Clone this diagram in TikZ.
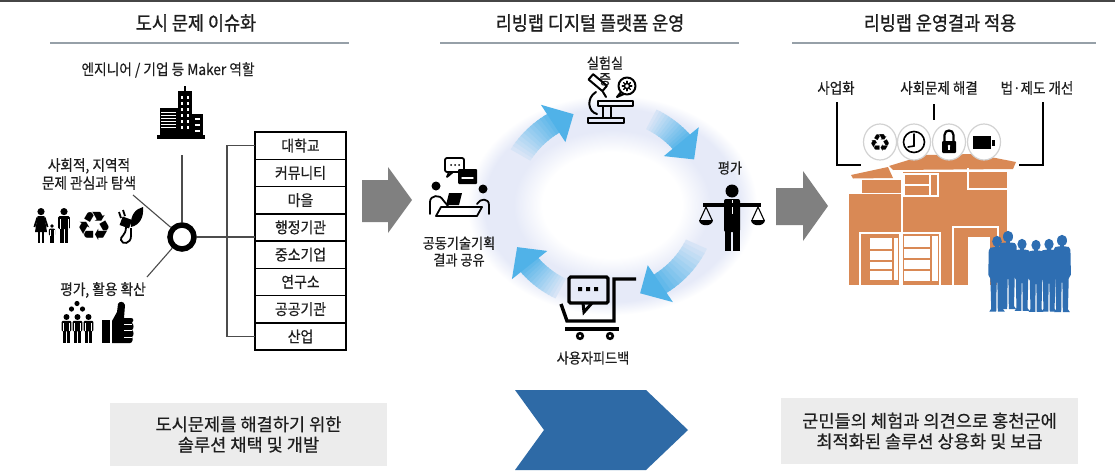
\documentclass[tikz,border=0pt]{standalone}
\usepackage{fontspec}
\newfontfamily\kr[FakeStretch=0.9, FakeBold=0.4]{Noto Sans CJK KR}
\newfontfamily\krt[FakeStretch=0.9, FakeBold=1.0]{Noto Sans CJK KR}
\newfontfamily\krw[FakeStretch=1.0, FakeBold=0.4]{Noto Sans CJK KR}
\newfontfamily\symfont{DejaVu Sans}
\usetikzlibrary{calc}

\definecolor{ink}{RGB}{30,30,30}
\definecolor{rulegray}{RGB}{150,160,168}
\definecolor{topgray}{RGB}{70,70,70}
\definecolor{arrowgray}{RGB}{128,128,128}
\definecolor{ringcol}{RGB}{230,234,248}
\definecolor{skyblue}{RGB}{80,178,232}
\definecolor{houseor}{RGB}{217,137,85}
\definecolor{crowdblue}{RGB}{46,110,178}
\definecolor{chevblue}{RGB}{46,106,166}
\definecolor{boxgray}{RGB}{236,236,236}

% soft elliptical band behind the cycle
\pgfdeclareradialshading{ringshade}{\pgfpoint{0bp}{0bp}}{color(0bp)=(white); color(12bp)=(white); color(17bp)=(ringcol); color(22bp)=(ringcol); color(25bp)=(white); color(50bp)=(white)}

% curved cycle arrow: #1 tail angle, #2 tip angle (fades towards the tail)
\newcommand\cyclearrow[2]{%
  \pgfmathsetmacro\headbase{#2-13}%
  \foreach \k in {0,...,11}{%
    \pgfmathsetmacro\angA{#1+(\headbase-#1)*\k/12}%
    \pgfmathsetmacro\angB{#1+(\headbase-#1)*(\k+1)/12+0.8}%
    \pgfmathtruncatemacro\mixP{10+\k*7}%
    \fill[skyblue!\mixP!ringcol] plot[domain=\angA:\angB, samples=5] (\x:106) -- plot[domain=\angB:\angA, samples=5] (\x:84) -- cycle;
  }%
  \fill[skyblue] (\headbase:117) -- (#2:95) -- (\headbase:73) -- cycle;
}

\tikzset{
  man/.pic={
    \fill (0,3.6) circle (3.6);
    \fill[rounded corners=1.2] (-5.8,8.2) rectangle (5.8,21);
    \fill (-4.2,20) rectangle (-0.5,35);
    \fill (0.5,20) rectangle (4.2,35);
    \draw[white, line width=0.6] (-3.9,11) -- (-3.9,21) (3.9,11) -- (3.9,21);
  },
  woman/.pic={
    \fill (0,3.6) circle (3.6);
    \fill (-3.4,8) -- (3.4,8) -- (6,24) -- (-6,24) -- cycle;
    \fill (-3,23) rectangle (-0.7,35);
    \fill (0.7,23) rectangle (3,35);
    \draw[line width=1.8] (-3.6,9.5) -- (-6.6,19) (3.6,9.5) -- (6.6,19);
  },
  member/.pic={
    \fill (0,5.6) ellipse [x radius=5, y radius=5.8];
    \fill (-2,10) rectangle (2,13);
    \fill (-8.5,15) .. controls (-8.5,12) and (-6,11.5) .. (-3,11.5) -- (3,11.5)
       .. controls (6,11.5) and (8.5,12) .. (8.5,15) -- (9,40) -- (6.8,44)
       -- (6,75) -- (8,78) -- (0.8,78) -- (0.4,48) -- (-0.4,48) -- (-0.8,78)
       -- (-8,78) -- (-6,75) -- (-6.8,44) -- (-9,40) -- cycle;
  },
}

\begin{document}
\begin{tikzpicture}[x=1pt,y=-1pt,
  title/.style={font=\krt\fontsize{19.4}{22}\selectfont, text=ink, inner sep=0},
  lbl/.style={font=\kr\fontsize{15.2}{18}\selectfont, text=ink, align=center, inner sep=0},
  mlbl/.style={font=\kr\fontsize{14.6}{16.8}\selectfont, text=ink, align=center, inner sep=0},
  rlbl/.style={font=\kr\fontsize{15}{17}\selectfont, text=ink, inner sep=0},
  row/.style={draw=black, line width=1.5, minimum width=91, minimum height=27.25, inner sep=0, outer sep=0, font=\kr\fontsize{15.4}{17}\selectfont, text=ink},
  conn/.style={draw=black!70, line width=1.1},
  brk/.style={draw=black, line width=2.8},
  rulec/.style={draw=rulegray, line width=1.4},
  sol/.style={fill=boxgray, inner sep=0, align=center, font=\krw\fontsize{17.6}{20.5}\selectfont, text=ink},
]
\useasboundingbox (0,0) rectangle (1115,471);
\fill[white] (0,0) rectangle (1115,471);

% ---------- header ----------
\draw[topgray, line width=2.2] (0,1.2) -- (1115,1.2);
\node[title] (t1) at (196,23) {도시 문제 이슈화};
\node[title] (t2) at (590,23) {리빙랩 디지털 플랫폼 운영};
\node[title] (t3) at (940,23) {리빙랩 운영결과 적용};
\draw[rulec] (50,43) -- (349,43);
\draw[rulec] (440,43) -- (739,43);
\draw[rulec] (792,43) -- (1096,43);

% ---------- left: urban issues ----------
\node[lbl] (maker) at (168,70) {엔지니어 / 기업 등 Maker 역할};

% office towers
\fill (178,91) rectangle (192,138);
\fill (184,86) rectangle (186,91);
\fill (160,108) rectangle (178,138);
\fill (192,114) rectangle (203,138);
\fill (157,135) rectangle (205,139);
\foreach \yy in {112,115,...,127} \draw[white, line width=0.8] (161,\yy) -- (176,\yy);
\foreach \yy in {96,102,...,126} {\fill[white] (181,\yy) rectangle (183,\yy+3); \fill[white] (187,\yy) rectangle (189,\yy+3);}
\foreach \yy in {118,124,130} \fill[white] (195,\yy) rectangle (200,\yy+2);

\node[lbl] (explore) at (89,174) {사회적, 지역적\\문제 관심과 탐색};
\node[lbl] (spread) at (103,290) {평가, 활용 확산};

% family, recycling, green plug
\pic at (41,208) {woman};
\pic[scale=0.55] at (52,224) {man};
\pic at (64,208) {man};
\node[font=\symfont\fontsize{40}{40}\selectfont, inner sep=0] (recyL) at (94,226) {♻};
\fill (131,227) .. controls (130,214) and (136,209) .. (143,207) .. controls (144,217) and (140,225) .. (131,227) -- cycle;
\fill[rotate around={-20:(126,222)}] (121,218) rectangle (131,227);
\draw[line width=1.8] (121,218) -- (119,212) (125,216) -- (123,210);
\draw[line width=1.8] (126,227) .. controls (126,236) and (120,236) .. (121,240) .. controls (122,245) and (131,244) .. (131,236) -- (131,228);

% crowd and thumbs-up
\fill (77,303.5) circle (2.6);
\fill (71.5,309) circle (2.6);
\fill (82.5,309) circle (2.6);
\pic[scale=0.83] at (66.5,314) {man};
\pic[scale=0.83] at (77.5,314) {man};
\pic[scale=0.83] at (88.5,314) {man};
\fill (102,320) rectangle (110,343);
\fill (112,343) -- (112,321) -- (117,312) -- (118,304) .. controls (119,301) and (124,301) .. (125,305) -- (124,318) -- (131,318) .. controls (134,318) and (134,322) .. (132,323) .. controls (134,324) and (134,329) .. (132,330) .. controls (134,331) and (134,336) .. (132,337) .. controls (133,338) and (133,343) .. (130,343) -- cycle;
\draw[white, line width=0.8] (124,324) -- (132,324) (124,330.5) -- (132,330.5) (124,337) -- (132,337);

% hub ring and its links
\node[circle, draw=black, line width=5.5, minimum size=24, inner sep=0] (hub) at (182,237) {};
\coordinate (bldfoot) at (182,155);
\coordinate (exploreEnd) at (133,195);
\coordinate (spreadEnd) at (147,277);
\draw[conn] (bldfoot) -- (hub);
\draw[conn] (exploreEnd) -- (hub);
\draw[conn] (spreadEnd) -- (hub);

% stakeholder list
\foreach \t [count=\i] in {대학교,커뮤니티,마을,행정기관,중소기업,연구소,공공기관,산업}
  \node[row] (r\i) at (300.5,{132+27.25*(\i-0.5)}) {\t};
\draw[line width=2.8] (r1.north west) rectangle (r8.south east);
\draw[conn] (hub) -- (hub -| r1.west);
\draw[conn] (r1.west) -- ++(-28,0) |- (r8.west);

% ---------- transition arrows ----------
\fill[arrowgray] (362,180) -- (388,180) -- (388,167) -- (412,200) -- (388,233) -- (388,222) -- (362,222) -- cycle;
\fill[arrowgray] (776,188) -- (803,188) -- (803,171) -- (828,206) -- (803,241) -- (803,225) -- (776,225) -- cycle;

% ---------- middle: living-lab cycle ----------
\shade[shading=ringshade] (612,205) ellipse [x radius=145, y radius=110];
\begin{scope}[shift={(606,204)}, xscale=1.05]
  \cyclearrow{211}{251}
  \cyclearrow{297}{332}
  \cyclearrow{25}{70}
  \cyclearrow{117}{153}
\end{scope}

\node[mlbl, font=\kr\fontsize{14.6}{16}\selectfont] (lab) at (605,71) {실험실\\증};
\node[mlbl] (evalL) at (730,168) {평가};
\node[mlbl] (share) at (459,251.5) {공동기술기획\\결과 공유};
\node[mlbl] (fb) at (593,358) {사용자피드백};

% microscope with gear bubble
\begin{scope}[line width=2, line cap=round, line join=round]
  \draw[rotate around={-40:(597,82)}] (589,78.5) rectangle (607,85.5);
  \draw (603,92) -- (606,97);
  \draw (596,92) .. controls (586,98) and (588,112) .. (597,114);
  \draw (598,101) rectangle (633,106);
  \draw (603,106) -- (603,118) (611,106) -- (611,118);
  \draw (588,118) rectangle (624,123);
  \draw (627,86) circle (8.5);
  \draw (621,92) -- (617,97) -- (624,94);
  \draw[line width=1.4] (627,86) circle (2.6);
  \begin{scope}[shift={(627,86)}]
    \foreach \a in {0,45,...,315} \draw[line width=1.4] (\a:2.6) -- (\a:4.8);
  \end{scope}
\end{scope}

% joint planning meeting
\begin{scope}[line width=1.8, line cap=round, line join=round]
  \draw[rounded corners=2] (445,158) rectangle (464,172);
  \draw (449,172) -- (447,177) -- (453,172);
  \fill (451,165) circle (1) (455,165) circle (1) (459,165) circle (1);
  \fill[rounded corners=1] (458,169) rectangle (477,184);
  \draw[white, line width=1.4] (462,178) -- (473,178);
  \fill (436,186) circle (4.5);
  \fill (483,189) circle (4.5);
  \draw (430,214) -- (430,202) .. controls (430,195) and (440,194) .. (443,200) -- (448,206);
  \draw (489,214) -- (489,205) .. controls (489,198) and (480,198) .. (477,204);
  \draw (436,216) -- (441,207) -- (482,207) -- (477,216) -- cycle;
  \fill (449,193) -- (462,193) -- (459,205) -- (446,205) -- cycle;
\end{scope}

% evaluator with scales
\fill (732,191) circle (6.5);
\fill[rounded corners=2] (724,199) rectangle (740,232);
\fill (724.5,230) rectangle (731.3,251);
\fill (732.7,230) rectangle (739.5,251);
\draw[white, line width=1] (732,200) -- (732,214);
\fill (703,203) rectangle (761,207);
\draw[line width=1.1] (706,207) -- (700,220) (706,207) -- (712,220);
\fill (699,220) .. controls (699,227) and (713,227) .. (713,220) -- cycle;
\draw[line width=1.1] (758,207) -- (752,220) (758,207) -- (764,220);
\fill (751,220) .. controls (751,227) and (765,227) .. (765,220) -- cycle;

% feedback cart
\draw[line width=3.2, rounded corners=1.5] (569,277) rectangle (608,303);
\draw[line width=3] (583,303) -- (584,312) -- (592,303);
\fill (578,287) rectangle (582,291) (586,287) rectangle (590,291) (594,287) rectangle (598,291);
\draw[line width=3.4] (561,304) -- (567,321) -- (614,321) -- (614,279) -- (636,279);
\draw[line width=3.4] (565,329) -- (619,329);
\fill (580,336) circle (4.2) (610,336) circle (4.2);
\fill[white] (580,336) circle (1.3) (610,336) circle (1.3);

% ---------- right: applying the results ----------
\node[rlbl] (biz) at (836,88) {사업화};
\node[rlbl] (soc) at (939,88) {사회문제 해결};
\node[rlbl] (law) at (1037,88) {법·제도 개선};

% house
\fill[houseor] (851,175) -- (888,167) -- (893,178) -- (853,178.5) -- cycle;
\fill[houseor] (889,166) -- (925,155) -- (975,154) -- (1016,162) -- (1013,169) -- (893,170) -- cycle;
\fill[houseor] (862,180) rectangle (902,194);
\fill[houseor] (902,172) rectangle (1007,194);
\fill[houseor] (849,194) rectangle (1007,285);
\begin{scope}[white, line width=1.6]
  \draw (849,193.5) -- (902,193.5);
  \draw (902,172) -- (902,232);
  \draw (968,168) -- (968,189) -- (1007,189);
  \draw (904,174) rectangle (938,196);
  \draw (904,185) -- (930,185) (930,174) -- (930,196);
  \draw (860,233) rectangle (900,286);
  \draw (902,233) rectangle (940,286);
  \draw (953,227) rectangle (998,286);
\end{scope}
\fill[white] (870,238) rectangle (892,280);
\fill[white] (893.5,238) rectangle (898,280);
\fill[white] (904,236) rectangle (930,281);
\fill[white] (932,236) rectangle (938,281);
\fill[white] (968,237) rectangle (990,286);
\draw[houseor, line width=2] (870,250) -- (892,250) (870,261) -- (892,261) (870,270) -- (892,270);
\draw[houseor, line width=2] (904,248) -- (930,248) (904,259) -- (930,259) (904,270) -- (930,270);

% result icons
\foreach \cx in {880,914,949,984}
  \draw[gray!35, line width=1.2, fill=white] (\cx,142) ellipse [x radius=16.5, y radius=18];
\node[font=\symfont\fontsize{24}{24}\selectfont, inner sep=0] (recyR) at (880,143) {♻};
\draw[line width=1.6] (914,142) circle (10.5);
\draw[line width=1.6, line cap=round] (914,134) -- (914,146) -- (908,147);
\draw[line width=2.2] (944.5,142) -- (944.5,135) .. controls (944.5,129) and (953.5,129) .. (953.5,135) -- (953.5,142);
\fill[rounded corners=1] (942,141) rectangle (956,153);
\fill[white] (949,146) circle (1.3);
\fill[white] (948.4,146) rectangle (949.6,150);
\fill (973,136) rectangle (991,149);
\fill (992,139.5) rectangle (994.5,145.5);

% brackets from the outcome labels
\coordinate (bizEnd) at (861,165);
\coordinate (socEnd) at (934,120);
\coordinate (lawEnd) at (1019,165);
\draw[brk] (837,102) |- (bizEnd);
\draw[brk] (934,104) -- (socEnd);
\draw[brk] (1043,102) |- (lawEnd);

% residents
\pic[crowdblue, scale=0.97] at (997,236) {member};
\pic[crowdblue, scale=1.0] at (1008,231) {member};
\pic[crowdblue, scale=0.92] at (1022,239) {member};
\pic[crowdblue, scale=0.92] at (1036,240) {member};
\pic[crowdblue, scale=0.93] at (1049,239) {member};
\pic[crowdblue, scale=0.99] at (1062,235) {member};

% ---------- bottom summary ----------
\node[sol, minimum width=277, minimum height=63] (solL) at (248.5,434.5) {도시문제를 해결하기 위한\\솔루션 채택 및 개발};
\fill[chevblue] (515,390) -- (646,390) -- (688,430) -- (646,470) -- (515,470) -- (544,430) -- cycle;
\node[sol, minimum width=297, minimum height=66] (solR) at (929.5,431) {군민들의 체험과 의견으로 홍천군에\\최적화된 솔루션 상용화 및 보급};
\end{tikzpicture}
\end{document}
